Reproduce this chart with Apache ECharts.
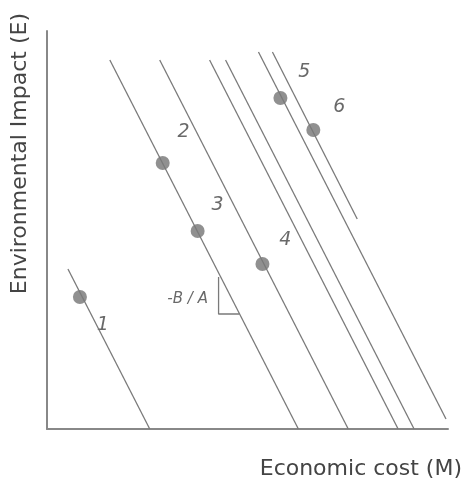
<!DOCTYPE html>
<html style="height: 100%">
<head>
  <meta charset="utf-8">
  <script type="text/javascript" src="https://cdn.jsdelivr.net/npm/echarts/dist/echarts.min.js"></script>
</head>
<body style="margin: 0; background: #fff">
  <div id="container" style="width: 465px; height: 485px"></div>
  <script type="text/javascript">
    // iso-cost lines [x0, y0, x1, y1]
    var lines = [
      [21, 160, 103, 0],
      [63, 369, 252, 0],
      [113, 369, 302, 0],
      [163, 369, 352, 0],
      [179, 369, 368, 0],
      [212, 377, 400, 10],
      [226, 377, 311, 210]
    ];
    var points = [[33, 132], [116, 266], [151, 198], [216, 165], [234, 331], [267, 299]];
    var labelText = ['1', '2', '3', '4', '5', '6', '-B / A'];
    var labelPos = [[56, 104], [137, 297], [171, 224], [239, 189], [258, 357], [293, 322], [141, 130]];
    var triangle = [[172, 152], [172, 115], [193, 115]];

    var dom = document.getElementById("container");
    var myChart = echarts.init(dom);
    var lineColor = '#7a7a7a';
    var series = [];
    for (var i in lines) {
      var l = lines[i];
      series.push({
        type: 'line',
        symbol: 'none',
        silent: true,
        lineStyle: { color: lineColor, width: 1.3 },
        data: [[l[0], l[1]], [l[2], l[3]]]
      });
    }
    series.push({
      type: 'line',
      symbol: 'none',
      lineStyle: { color: lineColor, width: 1.3 },
      data: triangle
    });
    series.push({
      type: 'scatter',
      symbolSize: 14,
      itemStyle: { color: '#747474' },
      data: points
    });
    var labelData = [];
    for (var j in labelPos) {
      labelData.push({
        value: labelPos[j],
        label: {
          show: true,
          position: 'inside',
          formatter: labelText[j],
          fontStyle: 'italic',
          fontSize: labelText[j].length > 1 ? 15 : 19,
          color: '#444',
          fontFamily: 'DejaVu Sans'
        }
      });
    }
    series.push({
      type: 'scatter',
      symbolSize: 1,
      itemStyle: { color: 'rgba(0,0,0,0)' },
      data: labelData
    });
    var option = {
      animation: false,
      grid: { left: 47, top: 31, right: 16, bottom: 56 },
      xAxis: {
        type: 'value', min: 0, max: 402,
        name: 'Economic cost (M)',
        nameLocation: 'end',
        nameGap: 14,
        nameTextStyle: { fontSize: 22, color: '#444', fontFamily: 'DejaVu Sans', align: 'right', verticalAlign: 'top', padding: [29, 0, 0, 0] },
        axisLine: { lineStyle: { color: '#888', width: 2 } },
        axisTick: { show: false }, axisLabel: { show: false }, splitLine: { show: false }
      },
      yAxis: {
        type: 'value', min: 0, max: 398,
        name: 'Environmental Impact (E)',
        nameLocation: 'end',
        nameRotate: 90,
        nameGap: 18,
        nameTextStyle: { fontSize: 22, color: '#444', fontFamily: 'DejaVu Sans', align: 'right', verticalAlign: 'bottom', padding: [0, 0, 16, 0] },
        axisLine: { lineStyle: { color: '#888', width: 2 } },
        axisTick: { show: false }, axisLabel: { show: false }, splitLine: { show: false }
      },
      series: series
    };
    myChart.setOption(option);
  </script>
</body>
</html>
